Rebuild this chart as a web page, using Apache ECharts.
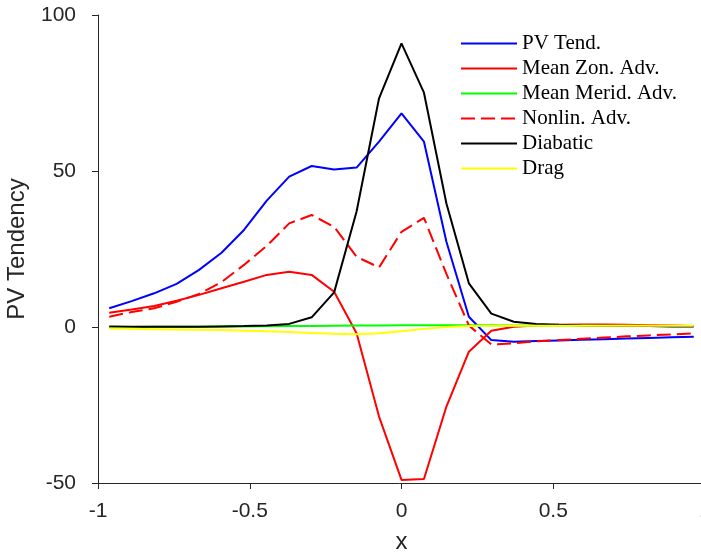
<!DOCTYPE html>
<html>
<head>
<meta charset="utf-8">
<script src="https://cdn.jsdelivr.net/npm/echarts@6/dist/echarts.min.js"></script>
<style>
  html, body { margin: 0; padding: 0; background: #fff; }
  #chart { width: 701px; height: 554px; }
</style>
</head>
<body>
<div id="chart"></div>
<script>
// x positions (27 points)
const xVals = [-0.963, -0.889, -0.815, -0.741, -0.667, -0.593, -0.519, -0.444, -0.370,
  -0.296, -0.222, -0.148, -0.074, 0, 0.074, 0.148, 0.222, 0.296, 0.370, 0.444, 0.519,
  0.593, 0.667, 0.741, 0.815, 0.889, 0.963];

const pvTend = [6.0, 8.3, 10.8, 13.8, 18.3, 23.8, 31.1, 40.5, 48.2, 51.6, 50.5, 51.1, 59.4,
  68.5, 59.4, 27.3, 3.3, -4.2, -4.7, -4.5, -4.3, -4.1, -3.9, -3.7, -3.5, -3.3, -3.1];
const meanZon = [4.6, 5.6, 6.7, 8.4, 10.3, 12.4, 14.5, 16.7, 17.7, 16.7, 11.3, -2.0, -28.7,
  -49.0, -48.7, -25.5, -7.9, -1.2, 0.1, 0.5, 0.7, 0.8, 0.8, 0.7, 0.6, 0.5, 0.3];
const meanMerid = [0.0, 0.0, 0.05, 0.1, 0.1, 0.15, 0.2, 0.25, 0.3, 0.35, 0.4, 0.45, 0.5,
  0.55, 0.6, 0.6, 0.6, 0.55, 0.5, 0.5, 0.45, 0.45, 0.4, 0.4, 0.35, 0.35, 0.3];
const nonlin = [3.3, 4.8, 6.0, 8.1, 10.6, 14.4, 19.9, 26.0, 33.2, 35.9, 32.1, 22.5, 19.1,
  30.5, 35.0, 17.0, 0.5, -5.6, -5.2, -4.6, -4.2, -3.8, -3.4, -3.0, -2.7, -2.4, -2.0];
const diabatic = [0.2, 0.1, 0.1, 0.1, 0.1, 0.2, 0.3, 0.5, 1.0, 3.1, 11.1, 37.0, 73.3,
  90.9, 75.1, 39.6, 14.0, 4.3, 1.7, 1.0, 0.7, 0.5, 0.4, 0.3, 0.3, 0.2, 0.2];
const drag = [-0.5, -0.6, -0.7, -0.8, -0.9, -1.0, -1.2, -1.4, -1.6, -1.9, -2.2, -2.3, -2.0,
  -1.4, -0.6, 0.0, 0.3, 0.4, 0.4, 0.4, 0.4, 0.4, 0.4, 0.4, 0.4, 0.4, 0.4];

const names = ['PV Tend.', 'Mean Zon. Adv.', 'Mean Merid. Adv.', 'Nonlin. Adv.', 'Diabatic', 'Drag'];
const colors = ['#0000ff', '#ff0000', '#00ff00', '#ff0000', '#000000', '#ffff00'];
const dashes = ['solid', 'solid', 'solid', [14, 6], 'solid', 'solid'];
const values = [pvTend, meanZon, meanMerid, nonlin, diabatic, drag];

const chart = echarts.init(document.getElementById('chart'));

const axisColor = '#262626';
const labelFont = { fontFamily: 'Liberation Sans', fontSize: 21, color: axisColor };

const option = {
  animation: false,
  grid: { left: 98, right: -4, top: 15, bottom: 71, outerBoundsMode: 'none', containLabel: false },
  legend: {
    orient: 'vertical',
    left: 460,
    top: 33,
    itemWidth: 56,
    itemHeight: 14,
    itemGap: 4,
    padding: 0,
    data: names,
    itemStyle: { opacity: 0 },
    textStyle: { fontFamily: 'Liberation Serif', fontSize: 21, lineHeight: 21, color: '#000' }
  },
  xAxis: {
    type: 'value',
    min: -1, max: 1, interval: 0.5,
    name: 'x',
    nameLocation: 'middle',
    nameGap: 47,
    nameTextStyle: { fontFamily: 'Liberation Sans', fontSize: 24, color: axisColor },
    axisLine: { onZero: false, lineStyle: { color: axisColor, width: 1 } },
    axisTick: { inside: false, length: 6, lineStyle: { color: axisColor } },
    axisLabel: Object.assign({ margin: 18 }, labelFont),
    splitLine: { show: false }
  },
  yAxis: {
    type: 'value',
    min: -50, max: 100, interval: 50,
    name: 'PV Tendency',
    nameLocation: 'middle',
    nameGap: 69,
    nameTextStyle: { fontFamily: 'Liberation Sans', fontSize: 24, color: axisColor },
    axisLine: { show: true, onZero: false, lineStyle: { color: axisColor, width: 1 } },
    axisTick: { show: true, inside: false, length: 6, lineStyle: { color: axisColor } },
    axisLabel: Object.assign({ margin: 22 }, labelFont),
    splitLine: { show: false }
  },
  series: names.map((n, i) => ({
    name: n,
    type: 'line',
    symbol: 'none',
    data: xVals.map((x, k) => [x, values[i][k]]),
    lineStyle: { color: colors[i], width: 2, type: dashes[i] },
    itemStyle: { color: colors[i] }
  }))
};

chart.setOption(option);
</script>
</body>
</html>
